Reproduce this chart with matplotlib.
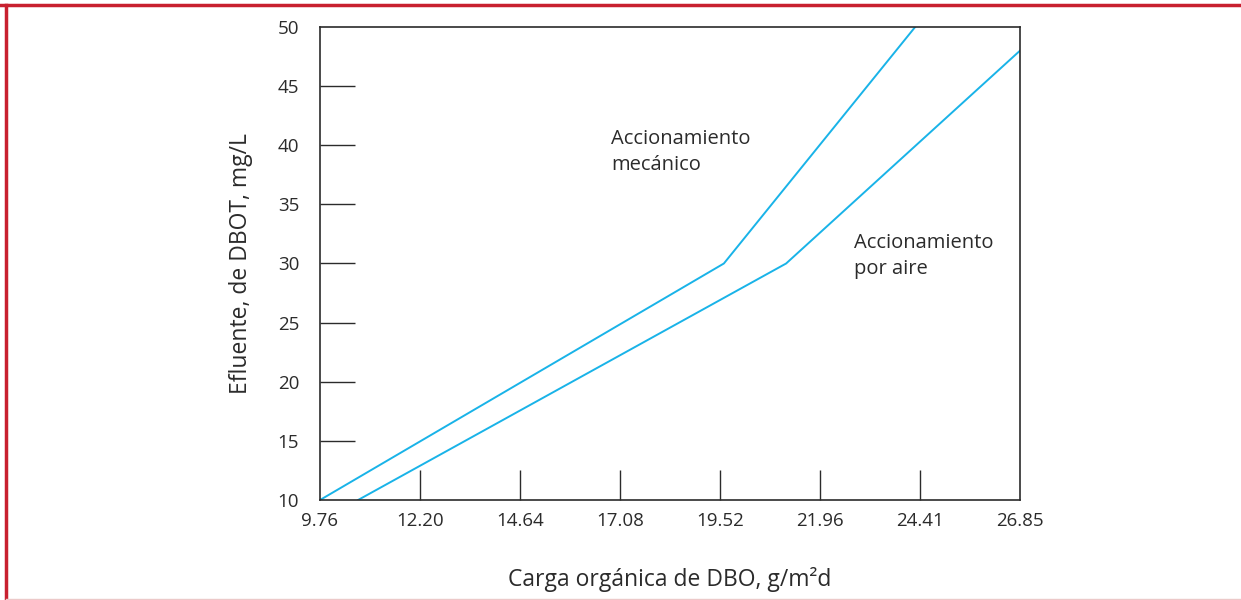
import matplotlib.pyplot as plt
from matplotlib.lines import Line2D

# data
x_ticks = [9.76, 12.20, 14.64, 17.08, 19.52, 21.96, 24.41, 26.85]
x_tick_labels = ['9.76', '12.20', '14.64', '17.08', '19.52', '21.96', '24.41', '26.85']
y_ticks = [10, 15, 20, 25, 30, 35, 40, 45, 50]

mec_x = [9.76, 19.62, 24.29]
mec_y = [10, 30, 50]
aire_x = [10.69, 21.14, 26.85]
aire_y = [10, 30, 48]

plt.rcParams['font.family'] = ['Open Sans', 'DejaVu Sans']
line_color = '#19b3e8'
dark = '#2b2b2b'

fig = plt.figure(figsize=(12.41, 6.0), dpi=100)
ax = fig.add_axes([320/1241, 1-500/600, 700/1241, 473/600])

ax.plot(mec_x, mec_y, color=line_color, linewidth=1.4)
ax.plot(aire_x, aire_y, color=line_color, linewidth=1.4)

ax.set_xlim(9.76, 26.85)
ax.set_ylim(10, 50)
ax.set_xticks(x_ticks)
ax.set_xticklabels(x_tick_labels)
ax.set_yticks(y_ticks)

ax.tick_params(axis='y', direction='in', length=25, width=1, color=dark,
               labelsize=13.5, labelcolor=dark, pad=15)
ax.tick_params(axis='x', direction='in', length=21.5, width=1, color=dark,
               labelsize=13.5, labelcolor=dark, pad=9)
# no tick marks at the corners
for t in [ax.xaxis.get_major_ticks()[0], ax.xaxis.get_major_ticks()[-1],
          ax.yaxis.get_major_ticks()[0], ax.yaxis.get_major_ticks()[-1]]:
    t.tick1line.set_visible(False)
for s in ax.spines.values():
    s.set_color(dark)
    s.set_linewidth(1.2)

ax.set_xlabel('Carga orgánica de DBO, g/m²d', fontsize=16.5, color=dark, labelpad=26)
ax.set_ylabel('Efluente, de DBOT, mg/L', fontsize=16.5, color=dark, labelpad=18)

ax.text(16.86, 41.4, 'Accionamiento\nmecánico', fontsize=14.5, color=dark,
        va='top', ha='left', linespacing=1.4)
ax.text(22.80, 32.6, 'Accionamiento\npor aire', fontsize=14.5, color=dark,
        va='top', ha='left', linespacing=1.4)

# page frame
fig.add_artist(Line2D([0, 1], [1-5/600, 1-5/600], color='#c8202f', linewidth=2.5))
fig.add_artist(Line2D([6/1241, 6/1241], [0, 1-5/600], color='#c8202f', linewidth=2.5))
fig.add_artist(Line2D([6/1241, 1], [1/600, 1/600], color='#ecc9c9', linewidth=1))

fig.savefig('out.png', dpi=100)
